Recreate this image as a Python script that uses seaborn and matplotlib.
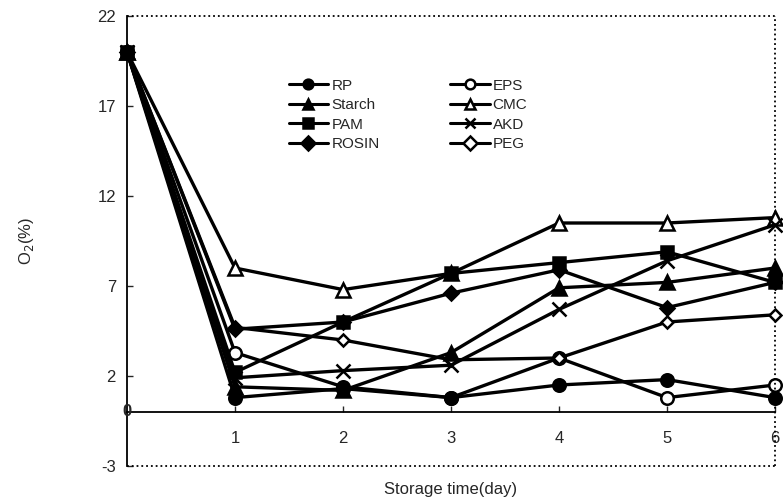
import matplotlib
matplotlib.use("Agg")
import matplotlib.pyplot as plt
import seaborn as sns
import pandas as pd

days = [0, 1, 2, 3, 4, 5, 6]
RP = [20, 0.8, 1.3, 0.8, 1.5, 1.8, 0.8]
Starch = [20, 1.4, 1.2, 3.3, 6.9, 7.2, 8.0]
PAM = [20, 2.2, 5.0, 7.7, 8.3, 8.9, 7.2]
ROSIN = [20, 4.6, 5.0, 6.6, 7.9, 5.8, 7.2]
EPS = [20, 3.3, 1.4, 0.8, 3.0, 0.8, 1.5]
CMC = [20, 8.0, 6.8, 7.7, 10.5, 10.5, 10.8]
AKD = [20, 1.9, 2.3, 2.6, 5.7, 8.4, 10.4]
PEG = [20, 4.7, 4.0, 2.9, 3.0, 5.0, 5.4]

series_names = ["RP", "Starch", "PAM", "ROSIN", "EPS", "CMC", "AKD", "PEG"]
series_vals = [RP, Starch, PAM, ROSIN, EPS, CMC, AKD, PEG]
yticks = [22, 17, 12, 7, 2, -3]
xticks = [1, 2, 3, 4, 5, 6]

rows = []
for n, vals in zip(series_names, series_vals):
    for d, v in zip(days, vals):
        rows.append({"day": d, "O2": v, "series": n})
df = pd.DataFrame(rows)

sns.set_style("white")
plt.rcParams["font.family"] = ["Liberation Sans", "DejaVu Sans"]
plt.rcParams["axes.unicode_minus"] = False

styles = {
    "RP": dict(marker="o", markerfacecolor="black", markersize=9),
    "Starch": dict(marker="^", markerfacecolor="black", markersize=10),
    "PAM": dict(marker="s", markerfacecolor="black", markersize=9),
    "ROSIN": dict(marker="D", markerfacecolor="black", markersize=7),
    "EPS": dict(marker="o", markerfacecolor="white", markersize=9),
    "CMC": dict(marker="^", markerfacecolor="white", markersize=10),
    "AKD": dict(marker="x", markerfacecolor="black", markersize=10),
    "PEG": dict(marker="D", markerfacecolor="white", markersize=6),
}
zorders = {"RP": 4, "Starch": 4, "PAM": 6, "ROSIN": 4, "EPS": 2, "CMC": 4, "AKD": 5, "PEG": 3}

fig = plt.figure(figsize=(7.83, 5.01), dpi=100)
ax = fig.add_axes([127 / 783, 1 - 466 / 501, 648 / 783, 450 / 501])

for n in series_names:
    sub = df[df["series"] == n]
    sns.lineplot(data=sub, x="day", y="O2", ax=ax, color="black", linewidth=2.4,
                 markeredgecolor="black", markeredgewidth=1.8, label=n,
                 zorder=zorders[n], clip_on=False, **styles[n])

ax.set_xlim(0, 6)
ax.set_ylim(-3, 22)

for s in ["top", "right"]:
    ax.spines[s].set_visible(False)
ax.spines["left"].set_linewidth(1.3)
ax.spines["left"].set_color("black")
ax.spines["bottom"].set_position(("data", 0))
ax.spines["bottom"].set_linewidth(1.3)
ax.spines["bottom"].set_color("black")

ax.axhline(22, color="black", linestyle=":", linewidth=1.3, clip_on=False)
ax.axhline(-3, color="black", linestyle=":", linewidth=1.3, clip_on=False)
ax.axvline(6, color="black", linestyle=":", linewidth=1.3, clip_on=False)

ax.set_yticks(yticks)
ax.set_yticklabels([str(t) for t in yticks], fontsize=12)
ax.set_xticks(xticks)
ax.set_xticklabels([str(t) for t in xticks], fontsize=12)
ax.tick_params(axis="y", direction="in", length=4, width=1, pad=8, left=True)
ax.tick_params(axis="x", direction="in", length=4, width=1, pad=14, bottom=True)
ax.text(0, 0, "0", ha="center", va="center", fontsize=12, fontweight="bold", zorder=10)

ax.set_xlabel("Storage time(day)", fontsize=12)
ax.xaxis.set_label_coords(0.5, -0.036)
ax.set_ylabel("O$_2$(%)", fontsize=12)
ax.yaxis.set_label_coords(-0.14, 0.5)

leg = ax.legend(loc="upper left", bbox_to_anchor=(0.24, 0.874), ncol=2, frameon=False,
                fontsize=11, handlelength=2.6, labelspacing=0.36, columnspacing=4.6,
                handletextpad=0.2, borderaxespad=0)
for h in leg.legend_handles:
    h.set_markersize(7)
    h.set_linewidth(2.2)

fig.savefig("out.png", dpi=100)
